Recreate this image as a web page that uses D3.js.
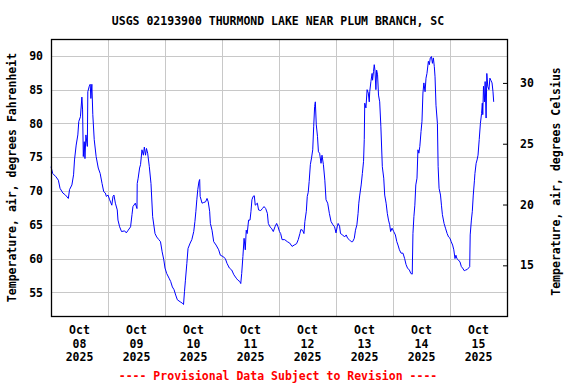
<!DOCTYPE html>
<html>
<head>
<meta charset="utf-8">
<script src="https://cdn.jsdelivr.net/npm/d3@7"></script>
<style>
  body { margin: 0; background: #fff; }
  text { font-family: "DejaVu Sans Mono", monospace; font-weight: bold; font-size: 11.5px; }
</style>
</head>
<body>
<svg id="chart" width="576" height="384"></svg>
<script>
// hours since Oct 08 2025 00:00
const hours = [0, 0.7, 2.1, 3.1, 3.8, 5, 6.1, 7.3, 7.8, 8.8, 9.5, 9.9, 10.6, 11.3, 11.7, 12.4, 13, 13.3, 13.6, 14, 14.3, 14.7, 15.3, 15.5, 16.1, 16.5, 16.8, 17.2, 17.6, 18.2, 19, 19.9, 20.7, 21.5, 22.2, 22.9, 23.3, 24,
  24.7, 25.6, 26.1, 26.5, 27.1, 27.9, 28.2, 28.9, 29.7, 31, 31.7, 32.5, 33.5, 34.1, 34.5, 35.5, 36.2, 36.3, 36.7, 37.3, 37.7, 38.3, 38.9, 39.3, 39.8, 40.2, 40.7, 41.4, 42.1, 42.8, 43.8, 44.5, 45.4, 46.1, 46.8, 47.5, 48,
  48.7, 49.7, 50.4, 51.1, 51.8, 52.5, 53.2, 54.4, 55.3, 55.8, 56.2, 56.6, 57.2, 57.7, 58.6, 59.3, 60.1, 60.6, 61, 61.4, 61.8, 62.3, 62.6, 62.8, 63.6, 64.3, 65.1, 65.7, 66.2, 66.8, 67.1, 67.8, 68.5, 69.5, 70.6, 71.3,
  72.4, 73.4, 74.1, 75.1, 76.1, 77, 78, 78.7, 79.5, 79.9, 80.3, 80.8, 81.3, 81.8, 82.2, 82.6, 83.2, 83.8, 84.2, 84.6, 85.1, 85.6, 86, 86.9, 87.4, 88.3, 89, 89.7, 90.4, 91.1, 91.5, 92.2, 92.8, 93.6, 94.3, 95, 95.6,
  96.2, 96.7, 97.3, 98.4, 99.5, 100.5, 101.5, 102.4, 103.4, 104.1, 104.8, 105.2, 105.9, 106.5, 106.9, 107.5, 107.9, 108.3, 108.7, 109.2, 109.7, 110.2, 110.6, 111, 111.3, 111.7, 112.2, 112.6, 113.1, 113.7, 114.1, 114.7, 115.3, 115.8, 116.5, 117.2, 117.9, 118.7, 119.4,
  120, 120.5, 120.9, 121.5, 121.9, 122.8, 123.6, 124.3, 124.9, 125.6, 126.4, 127, 127.7, 128.2, 128.8, 129.3, 129.6, 130, 130.6, 131.1, 131.6, 131.9, 132.1, 132.6, 133.1, 133.6, 134, 134.2, 134.7, 135.2, 135.4, 135.8, 136.1, 136.4, 136.8, 137.1, 137.5, 137.9, 138.4, 138.9, 139.5, 140.1, 140.5, 141.1, 141.6, 142.1, 142.6, 143, 143.6,
  144.3, 145, 145.6, 146.1, 146.7, 147.4, 148.2, 148.9, 149.5, 150.1, 150.9, 151.5, 152.1, 152.4, 152.8, 153.2, 153.6, 154.1, 154.5, 154.9, 155.3, 155.8, 156.2, 156.6, 157, 157.5, 157.9, 158.3, 158.9, 159.3, 159.7, 160.2, 160.6, 161, 161.4, 161.7, 162.1, 162.7, 163, 163.4, 164, 164.4, 164.8, 165.5, 166.1, 166.8, 167.4,
  168, 168.5, 169.1, 169.6, 170.1, 170.5, 170.9, 171.5, 172.2, 172.8, 173.3, 174, 174.6, 175.3, 175.8, 176.3, 176.5, 177, 177.4, 177.8, 178.3, 178.5, 179, 179.4, 179.8, 180.3, 180.8, 181.3, 181.6, 181.8, 182.1, 182.5, 182.8, 183.2, 183.5, 183.9, 184.4, 184.8, 185.2, 185.7, 186.1, 186.4];

// air temperature, degrees Fahrenheit
const tempF = [73.6, 72.6, 72.1, 71.6, 70.4, 69.7, 69.4, 68.9, 70.2, 70.9, 72.4, 74.6, 76.8, 78.3, 80.3, 81.0, 83.9, 82.0, 75.1, 77.3, 74.8, 78.3, 76.6, 84.7, 85.5, 85.8, 83.7, 85.8, 81.3, 77.6, 75.1, 73.4, 72.6, 71.1, 69.9, 69.7, 69.2, 69.4,
  68.7, 67.9, 69.2, 69.4, 68.2, 67.2, 65.7, 64.7, 64.0, 64.1, 63.8, 64.2, 64.7, 66.5, 67.7, 68.2, 67.4, 71.1, 71.9, 73.4, 73.9, 76.1, 75.3, 76.5, 75.3, 76.3, 75.6, 73.6, 71.1, 66.2, 63.7, 63.2, 62.8, 62.5, 61.0, 59.8, 58.6,
  57.8, 57.1, 56.6, 55.8, 55.4, 54.6, 53.9, 53.6, 53.4, 53.2, 55.1, 56.8, 59.3, 61.5, 62.3, 62.8, 64.0, 65.5, 67.0, 68.7, 70.2, 71.4, 71.7, 69.2, 68.2, 68.3, 68.4, 68.9, 68.4, 67.0, 65.2, 64.2, 62.5, 62.0, 61.3, 60.5,
  60.3, 60.0, 59.3, 58.6, 58.3, 57.6, 57.1, 56.8, 56.6, 56.3, 57.8, 60.3, 63.0, 61.3, 64.2, 63.7, 65.7, 65.7, 67.0, 68.7, 69.2, 69.3, 67.9, 68.2, 67.2, 67.1, 67.4, 67.7, 67.4, 66.7, 65.2, 64.7, 64.5, 64.0, 64.7, 65.2, 64.7,
  64.0, 63.7, 62.8, 62.8, 62.5, 62.3, 61.8, 62.0, 62.2, 62.8, 63.7, 64.3, 64.2, 63.7, 65.5, 67.0, 69.2, 69.8, 71.4, 73.9, 74.9, 76.1, 79.5, 82.5, 83.2, 79.8, 78.1, 75.8, 75.6, 74.1, 75.3, 73.9, 71.6, 68.7, 68.2, 66.7, 65.5, 65.0, 64.7,
  63.8, 64.7, 65.2, 64.8, 63.7, 63.5, 63.2, 63.5, 63.0, 62.8, 62.5, 62.5, 63.0, 64.2, 65.0, 66.7, 68.2, 69.4, 70.9, 72.6, 74.4, 77.6, 83.0, 82.3, 85.0, 84.5, 83.2, 84.7, 86.2, 87.4, 86.4, 87.7, 88.7, 87.9, 85.0, 87.9, 87.2, 84.2, 83.2, 79.5, 73.6, 71.9, 69.4, 68.2, 66.7, 65.7, 65.0, 64.0, 64.5,
  64.0, 63.5, 62.5, 62.0, 61.3, 60.8, 60.8, 60.0, 59.1, 58.6, 58.3, 57.8, 57.7, 63.7, 66.2, 67.9, 70.9, 71.9, 76.1, 75.6, 76.6, 78.8, 80.3, 84.5, 86.0, 84.7, 86.7, 87.4, 89.2, 88.7, 89.7, 89.9, 88.9, 89.7, 88.4, 86.9, 82.7, 80.0, 73.6, 70.4, 69.4, 67.9, 66.5, 65.2, 64.5, 63.7, 63.2,
  63.0, 62.5, 62.0, 61.3, 60.0, 60.5, 60.0, 59.8, 59.5, 58.8, 58.6, 58.2, 58.3, 58.4, 58.6, 58.8, 63.5, 65.7, 67.0, 69.4, 71.6, 72.6, 74.1, 74.6, 75.3, 77.6, 80.0, 81.5, 83.0, 81.3, 85.5, 83.2, 86.2, 80.8, 87.4, 85.5, 85.0, 86.7, 86.4, 86.0, 84.7, 83.2];

const leftTicks = [55, 60, 65, 70, 75, 80, 85, 90];
const rightTicks = [15, 20, 25, 30];
const dayLabels = ["08", "09", "10", "11", "12", "13", "14", "15"];
const monthLabel = "Oct";
const yearLabel = "2025";
const title = "USGS 02193900 THURMOND LAKE NEAR PLUM BRANCH, SC";
const leftTitle = "Temperature, air, degrees Fahrenheit";
const rightTitle = "Temperature, air, degrees Celsius";
const note = "---- Provisional Data Subject to Revision ----";

const svg = d3.select("#chart");
const plotLeft = 51, plotRight = 507, plotTop = 39, plotBottom = 316;

const start = new Date(2025, 9, 8);
const end = new Date(2025, 9, 16);
const data = hours.map((h, i) => ({ date: new Date(start.getTime() + h * 3600e3), value: tempF[i] }));

const x = d3.scaleTime().domain([start, end]).range([plotLeft, plotRight]);
const fDomain = [51.5, 92.5];
const y = d3.scaleLinear().domain(fDomain).range([plotBottom, plotTop]);
const yC = d3.scaleLinear().domain(fDomain.map(f => (f - 32) / 1.8)).range([plotBottom, plotTop]);

// horizontal grid
svg.append("g")
    .selectAll("line")
    .data(leftTicks)
    .enter().append("line")
    .attr("x1", plotLeft).attr("x2", plotRight)
    .attr("y1", d => Math.round(y(d)) + 0.5).attr("y2", d => Math.round(y(d)) + 0.5)
    .attr("stroke", "#c8c8c8");

// vertical grid at midnight
const midnights = d3.timeDay.range(d3.timeDay.offset(start, 1), end);
svg.append("g")
    .selectAll("line")
    .data(midnights)
    .enter().append("line")
    .attr("x1", d => Math.round(x(d)) + 0.5).attr("x2", d => Math.round(x(d)) + 0.5)
    .attr("y1", plotTop).attr("y2", plotBottom)
    .attr("stroke", "#c8c8c8");

// the series
const line = d3.line().x(d => x(d.date)).y(d => y(d.value));
svg.append("path")
    .datum(data)
    .attr("d", line)
    .attr("fill", "none")
    .attr("stroke", "#0000ff")
    .attr("stroke-width", 1);

// frame
svg.append("rect")
    .attr("x", plotLeft + 0.5).attr("y", plotTop + 0.5)
    .attr("width", plotRight - plotLeft).attr("height", plotBottom - plotTop)
    .attr("fill", "none").attr("stroke", "#000").attr("stroke-width", 1.3);

// left axis labels
const leftAxis = svg.append("g")
    .attr("transform", `translate(${plotLeft},0)`)
    .call(d3.axisLeft(y).tickValues(leftTicks).tickSize(0).tickPadding(8));
leftAxis.select(".domain").remove();
leftAxis.selectAll("text").attr("fill", "#000");

// right axis, Celsius
const rightAxis = svg.append("g")
    .attr("transform", `translate(${plotRight},0)`)
    .call(d3.axisLeft(yC).tickValues(rightTicks).tickSize(4).tickFormat(""));
rightAxis.select(".domain").remove();
rightAxis.selectAll("line").attr("stroke", "#000");
svg.append("g")
    .selectAll("text")
    .data(rightTicks)
    .enter().append("text")
    .attr("x", 520).attr("y", d => yC(d)).attr("dy", "0.35em")
    .text(d => d);

// bottom labels at noon of each day
const noons = dayLabels.map((d, i) => d3.timeHour.offset(d3.timeDay.offset(start, i), 12));
const xl = svg.append("g").selectAll("text")
    .data(noons)
    .enter().append("text")
    .attr("text-anchor", "middle")
    .attr("x", d => x(d))
    .attr("y", 334);
xl.append("tspan").attr("x", d => x(d)).attr("dy", 0).text(monthLabel);
xl.append("tspan").attr("x", d => x(d)).attr("dy", 13.5).text((d, i) => dayLabels[i]);
xl.append("tspan").attr("x", d => x(d)).attr("dy", 13.5).text(yearLabel);

// titles
svg.append("text").attr("x", 278).attr("y", 25).attr("text-anchor", "middle").text(title);
svg.append("text").attr("x", 278).attr("y", 380).attr("text-anchor", "middle").attr("fill", "#ff0000").text(note);
svg.append("text")
    .attr("transform", `translate(16,${(plotTop + plotBottom) / 2}) rotate(-90)`)
    .attr("text-anchor", "middle").text(leftTitle);
svg.append("text")
    .attr("transform", `translate(560,${(plotTop + plotBottom) / 2 + 4}) rotate(-90)`)
    .attr("text-anchor", "middle").text(rightTitle);
</script>
</body>
</html>
